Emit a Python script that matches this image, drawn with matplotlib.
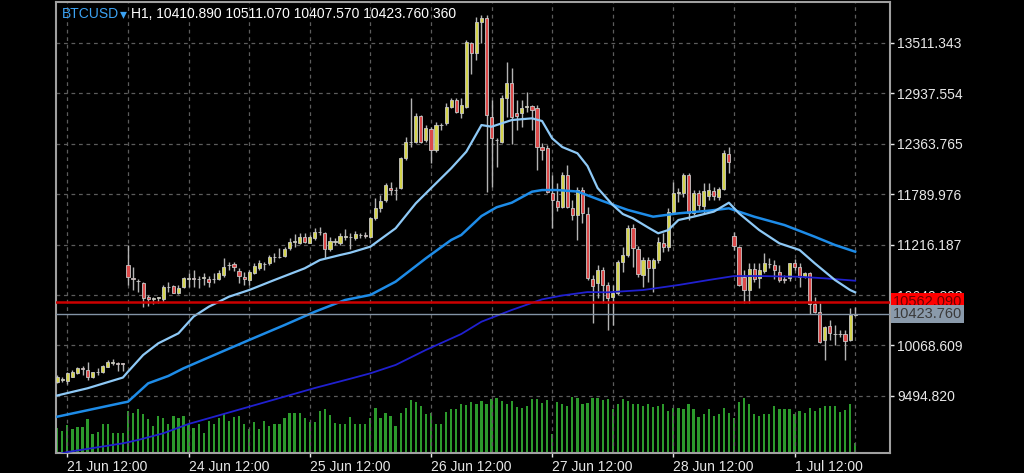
import matplotlib
matplotlib.use("Agg")
import matplotlib.pyplot as plt
import matplotlib.transforms as mtransforms

plt.rcParams['font.family'] = ['Liberation Sans', 'DejaVu Sans']

# H1 bars, index 0 = 21 Jun 12:00 (weekend gaps after bar 11 and bar 131)
bars = list(range(-2, 157))

opens = [9657, 9680, 9668, 9714, 9752, 9809, 9790, 9707, 9765, 9770, 9827, 9870, 9866, 9866,
         10983, 10839, 10807, 10782, 10623, 10597, 10608, 10600, 10733, 10745, 10662, 10730,
         10830, 10836, 10820, 10838, 10821, 10820, 10821, 10870, 10980, 10995, 10919, 10850,
         10813, 10889, 10946, 10990, 11003, 11075, 11070, 11086, 11173, 11248, 11230, 11305,
         11237, 11287, 11360, 11344, 11162, 11250, 11230, 11305, 11300, 11287, 11325, 11320,
         11305, 11514, 11628, 11723, 11855, 11837, 11855, 12197, 12385, 12385, 12677, 12405,
         12526, 12291, 12570, 12594, 12783, 12860, 12708, 12783, 13504, 13390, 13750, 13788,
         12670, 12405, 12385, 12879, 13049, 12708, 12708, 12780, 12795, 12765, 12329, 12310,
         11805, 11714, 11646, 12007, 11628, 11552, 11837, 11563, 10820, 10779, 10927, 10756,
         10623, 10662, 11021, 11097, 11401, 11162, 10870, 11040, 10946, 11040, 11237, 11192,
         11590, 11800, 11799, 12007, 11571, 11805, 11654, 11768, 11828, 11760, 11844, 12246,
         11313, 11191, 10850, 10699, 10935, 10832, 10919, 10990, 10984, 10907, 10825, 10832,
         11003, 10957, 10850, 10896, 10540, 10452, 10131, 10290, 10200, 10195, 10199, 10131,
         10410.89]
highs = [9733, 9714, 9770, 9790, 9827, 9835, 9884, 9770, 9809, 9846, 9903, 9911, 9884, 9873,
         11211, 10964, 10821, 10794, 10643, 10623, 10623, 10756, 10790, 10759, 10756, 10850,
         10889, 10927, 10858, 10889, 10858, 10896, 10927, 11059, 11021, 11021, 10946, 10907,
         10927, 11003, 11040, 11021, 11097, 11116, 11173, 11188, 11290, 11333, 11344, 11347,
         11325, 11400, 11419, 11362, 11305, 11287, 11344, 11390, 11344, 11374, 11350, 11362,
         11533, 11742, 11779, 11912, 11931, 11874, 12210, 12442, 12879, 12708, 12689, 12575,
         12556, 12613, 12602, 12822, 12879, 12879, 12879, 13542, 13523, 13807, 13826, 13826,
         12860, 12424, 12916, 13295, 13223, 12860, 12860, 12954, 12803, 12803, 12367, 12348,
         12007, 11912, 12045, 12121, 11723, 11874, 11874, 11646, 10870, 10984, 10964, 10794,
         10756, 11035, 11192, 11438, 11450, 11200, 11078, 11078, 11060, 11305, 11344, 11628,
         11931, 11855, 12033, 12033, 11837, 11837, 11912, 11912, 11870, 11874, 12291, 12329,
         11359, 11200, 10927, 11010, 11003, 11003, 11123, 11059, 11040, 10984, 10870, 11010,
         11048, 11003, 10907, 10907, 10623, 10548, 10290, 10359, 10301, 10245, 10245, 10491,
         10511.07]
lows = [9645, 9657, 9630, 9707, 9744, 9733, 9676, 9695, 9733, 9759, 9820, 9846, 9781, 9781,
        10756, 10699, 10680, 10506, 10517, 10540, 10555, 10566, 10680, 10662, 10653, 10722,
        10737, 10737, 10718, 10756, 10737, 10782, 10813, 10850, 10927, 10919, 10775, 10756,
        10756, 10881, 10927, 10927, 10984, 11021, 11060, 11075, 11154, 11192, 11222, 11230,
        11230, 11268, 11325, 11060, 11146, 11211, 11211, 11268, 11162, 11268, 11287, 11287,
        11287, 11495, 11590, 11703, 11779, 11723, 11850, 12178, 12329, 12367, 12370, 12385,
        12140, 12272, 12518, 12575, 12765, 12708, 12651, 12765, 13150, 13314, 13504, 11817,
        11867, 12101, 12367, 12670, 12360, 12519, 12556, 12727, 12519, 12064, 12178, 11799,
        11401, 11600, 11628, 11628, 11495, 11268, 11458, 10813, 10320, 10605, 10548, 10245,
        10300, 10643, 10908, 11078, 10964, 10847, 10737, 10794, 10680, 11003, 11135, 11142,
        11571, 11703, 11760, 11495, 11552, 11609, 11571, 11723, 11723, 11723, 11837, 12033,
        11154, 10745, 10548, 10548, 10794, 10718, 10889, 10946, 10821, 10794, 10775, 10805,
        10927, 10737, 10832, 10426, 10434, 10093, 9904, 10128, 10074, 10165, 9904, 10123,
        10407.57]
closes = [9714, 9690, 9752, 9770, 9809, 9803, 9714, 9763, 9772, 9835, 9884, 9878, 9858, 9862,
          10850, 10821, 10802, 10612, 10597, 10608, 10620, 10736, 10736, 10669, 10725, 10832,
          10840, 10830, 10825, 10842, 10794, 10828, 10889, 10964, 10985, 10957, 10858, 10821,
          10907, 10972, 11003, 10995, 11071, 11080, 11075, 11162, 11248, 11255, 11305, 11248,
          11298, 11362, 11364, 11162, 11260, 11255, 11313, 11310, 11305, 11336, 11330, 11315,
          11514, 11628, 11714, 11893, 11837, 11842, 12197, 12385, 12380, 12677, 12385, 12538,
          12291, 12575, 12580, 12783, 12860, 12727, 12803, 13522, 13398, 13750, 13788, 12689,
          12424, 12400, 12879, 13049, 12670, 12680, 12765, 12786, 12746, 12329, 12291, 11817,
          11723, 11646, 12007, 11646, 11552, 11837, 11571, 10832, 10745, 10927, 10756, 10605,
          10662, 11021, 11097, 11401, 11173, 10881, 11040, 10946, 11040, 11248, 11192, 11590,
          11805, 11810, 12007, 11571, 11805, 11666, 11825, 11837, 11768, 11844, 12253, 12158,
          11200, 10756, 10699, 10935, 10821, 10927, 11003, 10998, 10927, 10813, 10818, 11003,
          10957, 10850, 10896, 10540, 10452, 10111, 10282, 10214, 10195, 10200, 10123, 10415,
          10423.76]
volumes = [900, 792, 1008, 864, 936, 936, 1224, 684, 756, 1044, 1044, 720, 720, 720,
           1512, 1440, 1584, 1404, 1224, 972, 1332, 1260, 1044, 1332, 1260, 1332, 1044, 900,
           1044, 720, 1152, 1044, 1260, 1404, 1152, 1296, 1332, 1044, 864, 1116, 864, 1152,
           972, 1044, 1044, 1260, 1440, 1440, 1440, 1260, 1116, 1116, 1512, 1584, 1368, 1080,
           1044, 1044, 1296, 1044, 1044, 1044, 1260, 1620, 1260, 1440, 1332, 972, 1440, 1620,
           1908, 1836, 1692, 1404, 1440, 1044, 1044, 1476, 1584, 1584, 1764, 1728, 1836, 1764,
           1872, 1764, 1944, 1980, 1872, 1764, 1872, 1656, 1620, 1692, 1944, 1944, 1800, 1908,
           684, 1836, 1764, 1692, 2016, 1980, 1764, 1800, 1980, 1980, 1908, 1944, 1584, 1764,
           1944, 1872, 1764, 1764, 1692, 1764, 1656, 1692, 1764, 1512, 1620, 1620, 1584, 1764,
           1584, 1296, 1404, 1584, 1332, 1404, 1620, 1440, 1260, 1836, 1980, 1764, 1404, 1332,
           1404, 1404, 1692, 1584, 1584, 1584, 1404, 1512, 1440, 1620, 1512, 1620, 1692, 1692,
           1692, 1476, 1548, 1764, 360]

# moving averages at selected bars
ma_fast_x = [-2, 4, 11, 12, 15, 18, 22, 25, 28, 32, 36, 41, 47, 50, 54, 56, 60, 65, 69, 72,
             76, 79, 82, 84, 88, 92, 94, 96, 98, 101, 103, 105, 108, 110, 112, 115, 117, 119,
             121, 124, 128, 131, 133, 137, 141, 145, 148, 152, 155, 156]
ma_fast_y = [9500, 9582, 9704, 9770, 9960, 10093, 10207, 10398, 10509, 10623, 10699, 10813,
             10946, 11040, 11097, 11123, 11192, 11401, 11685, 11856, 12083, 12272, 12575, 12556,
             12632, 12651, 12621, 12424, 12325, 12254, 12109, 11859, 11666, 11563, 11514, 11410,
             11344, 11381, 11495, 11533, 11590, 11692, 11571, 11381, 11230, 11154, 11003, 10813,
             10699, 10673]
ma_mid_x = [-2, 11, 12, 16, 20, 23, 30, 36, 43, 49, 55, 60, 65, 71, 76, 78, 82, 85, 88, 92,
            94, 97, 101, 106, 111, 116, 121, 127, 131, 136, 142, 148, 152, 156]
ma_mid_y = [9259, 9418, 9429, 9638, 9722, 9809, 9983, 10131, 10301, 10452, 10586, 10643, 10794,
            11060, 11268, 11325, 11540, 11640, 11692, 11817, 11836, 11836, 11819, 11711, 11609,
            11533, 11571, 11601, 11628, 11533, 11438, 11305, 11211, 11135]
ma_slow_x = [-2, 0, 11, 14, 19, 24, 36, 49, 52, 56, 60, 65, 71, 78, 82, 88, 94, 98, 103, 107,
             114, 121, 127, 132, 137, 145, 150, 156]
ma_slow_y = [8829, 8857, 8956, 8994, 9070, 9176, 9372, 9585, 9630, 9690, 9752, 9847, 10018,
             10199, 10339, 10472, 10593, 10637, 10676, 10673, 10699, 10756, 10813, 10858, 10858,
             10850, 10832, 10805]

price_ticks = [9494.820, 10068.609, 10642.398, 11216.187, 11789.976, 12363.765, 12937.554, 13511.343]
date_ticks = [0, 24, 48, 72, 96, 120, 144]
date_labels = ['21 Jun 12:00', '24 Jun 12:00', '25 Jun 12:00', '26 Jun 12:00',
               '27 Jun 12:00', '28 Jun 12:00', '1 Jul 12:00']
ask_price = 10562.090
bid_price = 10423.760

fig = plt.figure(figsize=(10.24, 4.73), dpi=100, facecolor='black')
rect = [56 / 1024, 20 / 473, 834 / 1024, 451 / 473]

# volumes underneath
axv = fig.add_axes(rect)
axv.bar(bars, volumes, width=0.45, color='#2c9a2c', linewidth=0)
axv.set_xlim(-2.25, 162.9)
axv.set_ylim(0, 16236)
axv.set_axis_off()

ax = fig.add_axes(rect)
ax.set_facecolor('none')
ax.set_xlim(-2.25, 162.9)
ax.set_ylim(8846, 13974)

# candles
up = [c >= o for o, c in zip(opens, closes)]
body_lo = [min(o, c) for o, c in zip(opens, closes)]
body_h = [max(abs(c - o), 4) for o, c in zip(opens, closes)]
body_col = ['#d4d44c' if u else '#dc4a4a' for u in up]
ax.vlines(bars, lows, highs, color='#b4b4b4', lw=1.0, zorder=3)
ax.bar(bars, body_h, bottom=body_lo, width=0.62, color=body_col,
       edgecolor='#c8c8c8', linewidth=0.6, zorder=4)

ax.plot(ma_slow_x, ma_slow_y, color='#2020d0', lw=1.3, zorder=5)
ax.plot(ma_mid_x, ma_mid_y, color='#1e8ce8', lw=1.8, zorder=5)
ax.plot(ma_fast_x, ma_fast_y, color='#8ec9f6', lw=1.6, zorder=5)

ax.axhline(ask_price, color='#cc0000', lw=1.8, zorder=6)
ax.axhline(bid_price, color='#8394a6', lw=1.0, zorder=6)

# axes styling
ax.yaxis.tick_right()
ax.set_yticks(price_ticks)
ax.set_yticklabels(['%.3f' % p for p in price_ticks])
ax.set_xticks(date_ticks)
ax.set_xticklabels(date_labels, ha='left')
ax.set_xticks(list(range(12, 157, 24)), minor=True)
ax.tick_params(axis='both', colors='#e8e8e8', labelsize=10, length=3, width=1)
ax.tick_params(axis='x', which='minor', length=0)
ax.tick_params(axis='x', pad=2)
ax.tick_params(axis='y', pad=2)
ax.grid(True, which='both', axis='x', color='#5c5c5c', lw=0.9, ls=(0, (3, 3)))
ax.grid(True, which='major', axis='y', color='#5c5c5c', lw=0.9, ls=(0, (3, 3)))
ax.set_axisbelow(True)
for s in ax.spines.values():
    s.set_color('#a0a0a0')
    s.set_linewidth(1.5)

trans = mtransforms.blended_transform_factory(ax.transAxes, ax.transData)
ax.text(1.003, ask_price, '%.3f' % ask_price, transform=trans, va='center', ha='left',
        fontsize=10.5, color='#6a0000', clip_on=False, zorder=10,
        bbox=dict(boxstyle='square,pad=0.12', fc='#ff0000', ec='none'))
ax.text(1.003, bid_price, '%.3f' % bid_price, transform=trans, va='center', ha='left',
        fontsize=10.5, color='#3a3a3a', clip_on=False, zorder=10,
        bbox=dict(boxstyle='square,pad=0.12', fc='#8a9aab', ec='none'))

# header line
fig.text(62 / 1024, 1 - 14 / 473, 'BTCUSD', color='#3ca2f2', fontsize=10, va='center')
fig.text(120 / 1024, 1 - 14 / 473, '▾', color='#3ca2f2', fontsize=10, va='center',
         family=['DejaVu Sans'])
fig.text(131 / 1024, 1 - 14 / 473, 'H1, 10410.890 10511.070 10407.570 10423.760 360',
         color='white', fontsize=10, va='center')

fig.savefig('out.png', dpi=100, facecolor='black')
